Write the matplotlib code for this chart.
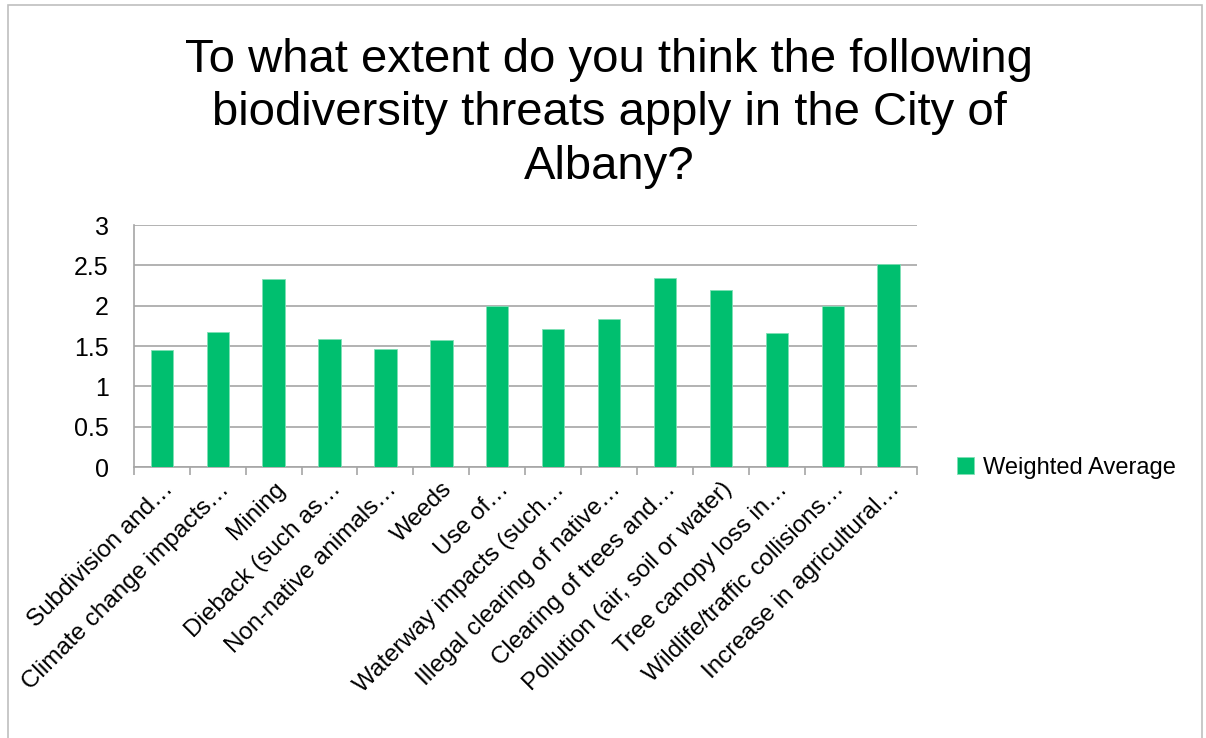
import numpy as np
import matplotlib.pyplot as plt
from matplotlib.patches import Rectangle

# survey categories (truncated as in the source chart)
categories = [
    "Subdivision and…",
    "Climate change impacts…",
    "Mining",
    "Dieback (such as…",
    "Non-native animals…",
    "Weeds",
    "Use of…",
    "Waterway impacts (such…",
    "Illegal clearing of native…",
    "Clearing of trees and…",
    "Pollution (air, soil or water)",
    "Tree canopy loss in…",
    "Wildlife/traffic collisions…",
    "Increase in agricultural…",
]
weighted_avg = [1.45, 1.67, 2.33, 1.59, 1.46, 1.57, 2.0, 1.71, 1.83, 2.35, 2.2, 1.66, 2.0, 2.52]
y_ticks = [0, 0.5, 1, 1.5, 2, 2.5, 3]
y_labels = ["0", "0.5", "1", "1.5", "2", "2.5", "3"]

green = "#00BF6F"
grid_col = "#a6a6a6"

plt.rcParams["font.family"] = ["Liberation Sans", "DejaVu Sans"]

fig = plt.figure(figsize=(12.06, 7.38), dpi=100)
ax = fig.add_axes([0.111, 0.367, 0.649, 0.328])

x = np.arange(len(categories))
ax.bar(x, weighted_avg, width=0.4, color=green, edgecolor="#7fe0b5", linewidth=0.6,
       label="Weighted Average", zorder=3)

ax.set_xlim(-0.5, len(categories) - 0.5)
ax.set_ylim(0, 3)
ax.set_yticks(y_ticks)
ax.set_yticklabels(y_labels, fontsize=18)
ax.yaxis.grid(True, color=grid_col, linewidth=1.2, zorder=0)
ax.tick_params(axis="y", length=0, pad=18)

ax.set_xticks(x)
ax.set_xticklabels(categories, rotation=45, ha="right", rotation_mode="anchor", fontsize=17.5)
ax.tick_params(axis="x", which="major", length=0, pad=8)
ax.set_xticks(np.arange(-0.5, len(categories)), minor=True)
ax.tick_params(axis="x", which="minor", length=6, color=grid_col, width=1.2)

for s in ["top", "right"]:
    ax.spines[s].set_visible(False)
for s in ["left", "bottom"]:
    ax.spines[s].set_color(grid_col)
    ax.spines[s].set_linewidth(1.2)

fig.text(0.505, 0.949,
         "To what extent do you think the following\nbiodiversity threats apply in the City of\nAlbany?",
         ha="center", va="top", fontsize=34, linespacing=1.28)

leg = fig.legend(loc="center left", bbox_to_anchor=(0.776, 0.366), frameon=False,
                 fontsize=17, handlelength=0.7, handleheight=0.7, handletextpad=0.4)

# chart frame
fig.patches.append(Rectangle((0.007, -0.01), 0.99, 1.003, transform=fig.transFigure,
                             fill=False, edgecolor="#bfbfbf", linewidth=1.2))

fig.savefig("out.png", dpi=100)
